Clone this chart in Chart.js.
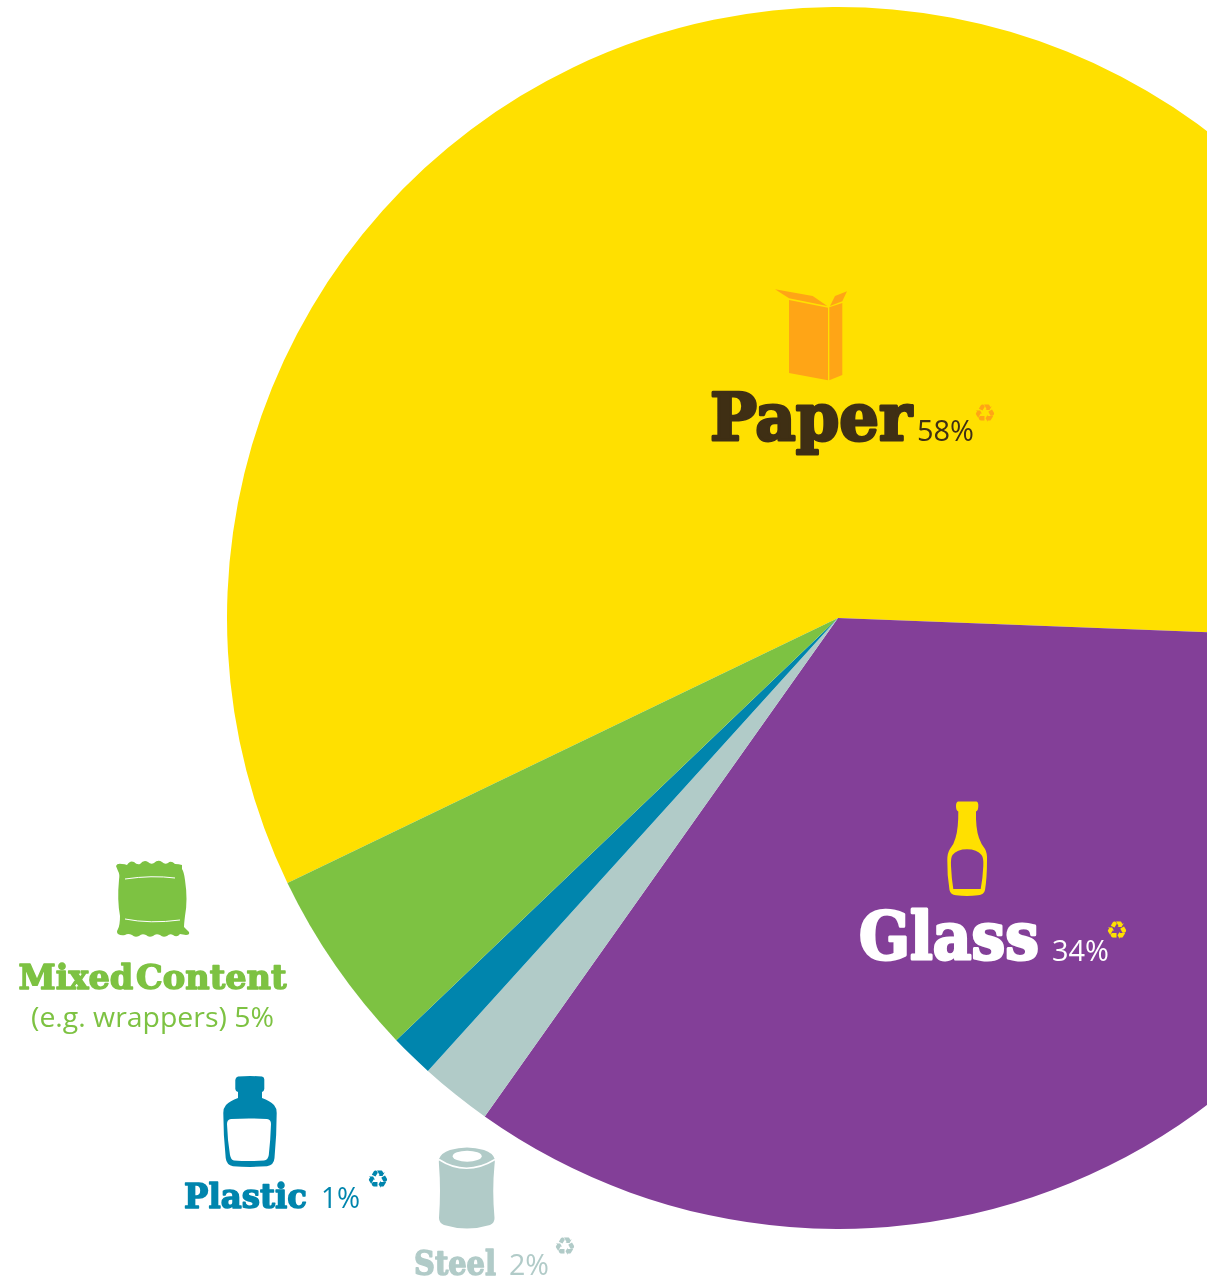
<!DOCTYPE html>
<html>
<head>
<meta charset="utf-8">
<title>Recycling by material</title>
<script src="https://cdn.jsdelivr.net/npm/chart.js"></script>
<style>
  html, body { margin: 0; padding: 0; background: #fff; }
  #page { position: relative; width: 1207px; height: 1278px; overflow: hidden; }
  #chartCanvas { position: absolute; left: 227px; top: 7px; }
  #overlay { position: absolute; left: 0; top: 0; }
  .name { font-family: "DejaVu Serif"; font-weight: bold; stroke-linejoin: round; word-spacing: -9px; }
  .pct { font-family: "Open Sans"; font-weight: 400; }
  .rec { font-family: "DejaVu Sans"; text-anchor: middle; }
</style>
</head>
<body>
<div id="page">
  <canvas id="chartCanvas" width="1222" height="1222"></canvas>
  <svg id="overlay" width="1207" height="1278" viewBox="0 0 1207 1278">
    <!-- paper box -->
    <g fill="#FFA516">
      <path d="M789 300 L828 307.7 L828 380.3 L789 373 Z"/>
      <path d="M829.3 307.3 L842.3 303 L842.3 375 L829.3 380.3 Z"/>
      <path d="M775 289.3 L812.7 296 L827.3 306 L789 298.3 Z"/>
      <path d="M830 306 L835 296 L847 291.3 L842.3 301.3 Z"/>
    </g>
    <!-- glass bottle -->
    <path fill="#FFE000" fill-rule="evenodd" d="M958 801.5 L976.5 801.5 Q978.5 802 978.3 806 Q978.3 810.5 976 811.5
      Q975.5 828 979 838 Q981 844 985 849 Q987.3 853 987 860 Q987 878 985 890 Q984 895 978 895.3 Q967 896.5 956 895.3
      Q950.5 895 949.5 890 Q947 875 947.3 860 Q947.3 853 950 849 Q954 844 955.5 838 Q958.5 828 958.3 811.5
      Q956 810.5 956 806 Q956 802 958 801.5 Z
      M967 849.3 Q957 849.3 952.5 855 Q950.5 858 951 866 Q951.5 878 953.3 889 L980.7 889 Q982.8 878 983.3 866 Q983.8 858 981.5 855 Q977 849.3 967 849.3 Z"/>
    <!-- wrapper -->
    <path fill="#7DC242" d="M116 866 Q117 863 122 864 Q125 864 127 865 Q130 860 134 862 Q137 865 140 864 Q144 859 148 862 Q151 865 154 863 Q158 859 162 862 Q165 865 168 863 Q171 860 175 864 Q179 864 182 865 L182 869
      Q184 872 185 880 Q188 900 185 916 Q184 924 184 927 L189 932 Q190 935 186 935 L180 934 Q177 938 173 935 Q170 933 167 936 Q163 938 160 935 Q156 933 153 936 Q149 938 146 935 Q142 933 139 936 Q135 938 132 935 Q128 933 125 935 Q121 936 118 934 Q116 932 118 929
      Q120 925 120 916 Q117 900 119 880 Q120 874 118 871 Z"/>
    <g fill="none" stroke="#fff" stroke-width="1">
      <path d="M125 879 Q152 875 175 878"/>
      <path d="M125 919 Q150 924 180 920"/>
    </g>
    <!-- plastic bottle -->
    <path fill="#0085AD" fill-rule="evenodd" d="M238 1076.5 Q250 1075.5 262 1076.5 Q264.5 1077 264.3 1080 L264.3 1089 Q264 1091.5 262 1092 L262 1098
      Q270 1101 274 1105 Q276.7 1108 276.7 1113 Q276.7 1135 274.5 1158 Q274 1165 267 1166.3 Q250 1167.5 233 1166.3 Q226.5 1165 225.7 1158 Q223.3 1135 223.3 1113 Q223.3 1108 226 1105 Q230 1101 238 1098 L238 1092 Q235.5 1091.5 235.3 1089 L235.3 1080 Q235.5 1077 238 1076.5 Z
      M231 1119 Q249 1118 267 1119 Q271 1119.5 271 1124 Q270.5 1140 268.8 1155 Q268 1160 264 1160.5 Q249 1161.5 234 1160.5 Q231 1160 230 1155 Q227.5 1140 227 1124 Q227 1119.5 231 1119 Z"/>
    <!-- steel can -->
    <path fill="#B1CBC8" d="M439 1159 Q441 1153 450 1150 Q467 1145 484 1150 Q493 1153 494.7 1159 Q495 1162 494.5 1165 Q492 1190 494.5 1218 Q494.7 1223 490 1225 Q467 1232 444 1225 Q439 1223 439 1218 Q441 1190 439 1165 Q438.7 1162 439 1159 Z"/>
    <ellipse cx="467.2" cy="1156.2" rx="14.5" ry="5.5" fill="#fff"/>
    <path d="M439 1159.5 Q466 1177 495 1159.5" fill="none" stroke="#fff" stroke-width="1.5"/>
    <g id="labels"></g>
  </svg>
</div>
<script>
  const categories = ['Paper', 'Glass', 'Steel', 'Plastic', 'Mixed Content'];
  const seriesValues = [57.75, 34.2, 1.9, 1.15, 5.0];
  const percentLabels = ['58%', '34%', '2%', '1%', '5%'];
  const sliceColors = ['#FFE000', '#833F98', '#B1CBC8', '#0085AD', '#7DC242'];

  new Chart(document.getElementById('chartCanvas').getContext('2d'), {
    type: 'pie',
    data: {
      labels: categories,
      datasets: [{
        data: seriesValues,
        backgroundColor: sliceColors,
        borderWidth: 0,
        hoverOffset: 0
      }]
    },
    options: {
      responsive: false,
      animation: false,
      rotation: 244.3,
      layout: { padding: 0 },
      plugins: {
        legend: { display: false },
        tooltip: { enabled: false }
      }
    }
  });

  // text overlay
  const svgNS = 'http://www.w3.org/2000/svg';
  const labelGroup = document.getElementById('labels');

  function addText(str, cls, x, y, size, fill, width, stroke) {
    const t = document.createElementNS(svgNS, 'text');
    t.setAttribute('class', cls);
    t.setAttribute('x', x);
    t.setAttribute('y', y);
    t.setAttribute('font-size', size);
    t.setAttribute('fill', fill);
    if (width) {
      t.setAttribute('textLength', width);
      t.setAttribute('lengthAdjust', 'spacingAndGlyphs');
    }
    if (stroke) {
      t.setAttribute('stroke', fill);
      t.setAttribute('stroke-width', stroke);
    }
    t.textContent = str;
    labelGroup.appendChild(t);
  }

  addText(categories[0], 'name', 710, 440, 66, '#3F2F14', 202, 3);
  addText(percentLabels[0], 'pct', 917, 441, 30, '#3F2F14', 57);
  addText('♻', 'rec', 985, 422, 25, '#FFA516');

  addText(categories[1], 'name', 859, 959, 66, '#ffffff', 180, 3);
  addText(percentLabels[1], 'pct', 1052, 961, 30, '#ffffff', 57);
  addText('♻', 'rec', 1117, 939, 25, '#FFE000');

  addText(categories[4], 'name', 18.5, 988.5, 34, '#7DC242', 268, 1.5);
  addText('(e.g. wrappers) ' + percentLabels[4], 'pct', 31, 1027, 28, '#7DC242', 243);

  addText(categories[3], 'name', 184, 1207.5, 34, '#0085AD', 123, 1.5);
  addText(percentLabels[3], 'pct', 321, 1208, 30, '#0085AD', 39);
  addText('♻', 'rec', 378, 1188, 25, '#0085AD');

  addText(categories[2], 'name', 414, 1275, 33, '#B1CBC8', 82, 1.5);
  addText(percentLabels[2], 'pct', 509, 1275, 30, '#B1CBC8', 40);
  addText('♻', 'rec', 565, 1255, 25, '#B1CBC8');
</script>
</body>
</html>
